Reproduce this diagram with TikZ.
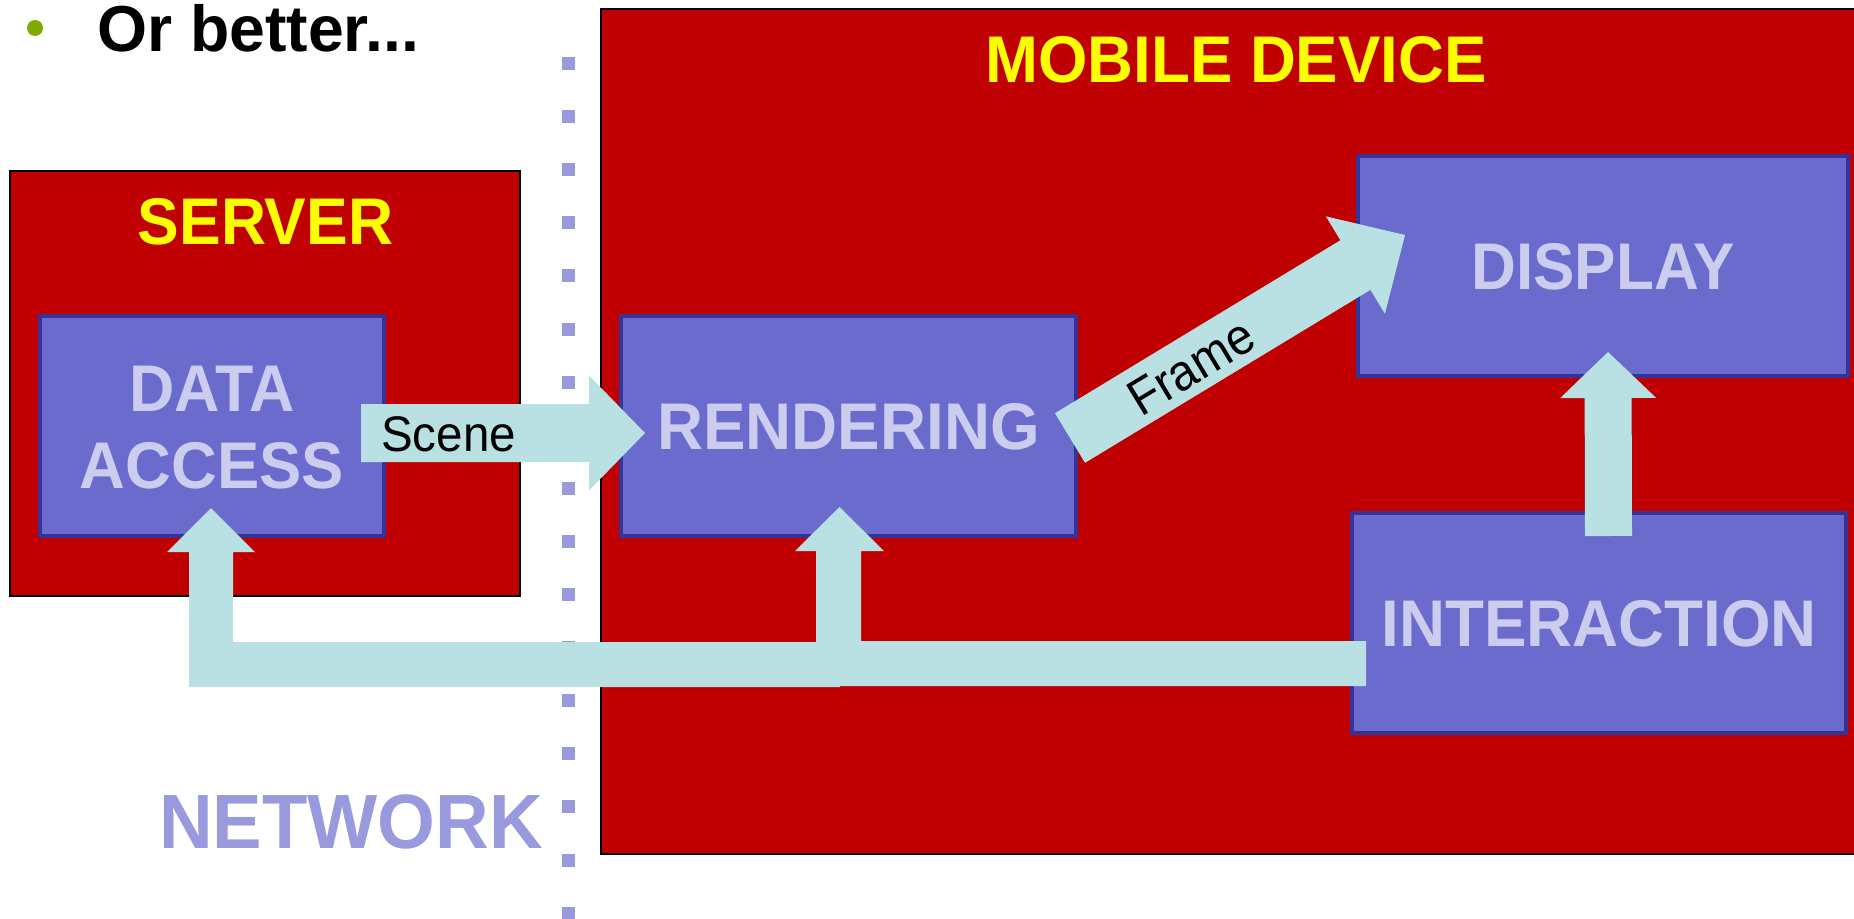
\documentclass[tikz,border=0pt]{standalone}
\usepackage{fontspec}
\setmainfont{Liberation Sans}
\usepackage{graphicx}
\usetikzlibrary{calc}

\definecolor{devred}{HTML}{C00000}
\definecolor{boxfill}{HTML}{6B6BCE}
\definecolor{boxline}{HTML}{333399}
\definecolor{boxtext}{HTML}{CCCCEE}
\definecolor{flow}{HTML}{B9E0E3}
\definecolor{netblue}{HTML}{9999DD}
\definecolor{bulletgreen}{HTML}{80AA00}
\definecolor{titleyellow}{HTML}{FFFF00}

\newcommand{\cond}[2]{\scalebox{#1}[1]{#2}}
% block arrow: #1 tail coord, #2 tip coord, #3 half shaft, #4 half head, #5 head length
\newcommand{\blockarrow}[5]{%
  \coordinate (#1-#2-h) at ($(#2)!#5!(#1)$);
  \fill[flowfill] ($(#1)!#3!90:(#2)$) -- ($(#1-#2-h)!#3!90:(#2)$)
    -- ($(#1-#2-h)!#4!90:(#2)$) -- (#2) -- ($(#1-#2-h)!#4!-90:(#2)$)
    -- ($(#1-#2-h)!#3!-90:(#2)$) -- ($(#1)!#3!-90:(#2)$) -- cycle;}

\begin{document}
\begin{tikzpicture}[x=1pt,y=-1pt,
  region/.style={draw=black, line width=2pt, fill=devred, inner sep=0pt},
  comp/.style={draw=boxline, line width=4pt, fill=boxfill, text=boxtext,
    font=\bfseries\fontsize{66}{77}\selectfont, inner sep=0pt,
    text height=47.3pt, text depth=0pt},
  regtitle/.style={text=titleyellow, font=\bfseries\fontsize{66}{77}\selectfont,
    inner sep=0pt, text height=47.3pt, text depth=0pt},
  flowfill/.style={fill=flow},
  flowlabel/.style={text=black, font=\fontsize{50}{60}\selectfont, inner sep=0pt},
  netline/.style={draw=netblue, line width=13pt, dash pattern=on 13pt off 40.1pt},
  nettext/.style={text=netblue, font=\bfseries\fontsize{77}{90}\selectfont,
    inner sep=0pt, text height=55.1pt, text depth=0pt},
]
\useasboundingbox (0,0) rectangle (1854,918);
\clip (0,0) rectangle (1854,918);
\fill[white] (0,0) rectangle (1854,918);

% regions
\node[region, minimum width=510pt, minimum height=425pt] (server) at (265,383.5) {};
\node[region, minimum width=1279pt, minimum height=845pt] (mobile) at (1240.5,431.5) {};

% network boundary
\coordinate (nettop) at (568,57);
\coordinate (netbot) at (568,930);
\draw[netline] (nettop) -- (netbot);

% titles
\node[regtitle] (servertitle) at (265.5,221) {\cond{0.945}{SERVER}};
\node[regtitle] (mobiletitle) at (1236,58.5) {\cond{0.962}{MOBILE DEVICE}};

% components
\node[comp, minimum width=344pt, minimum height=220pt, text height=124.3pt] (da) at (212,426)
  {\begin{tabular}[b]{@{}c@{}}\cond{0.95}{DATA}\\\cond{0.96}{ACCESS}\end{tabular}};
\node[comp, minimum width=455pt, minimum height=220pt] (rend) at (848.5,426) {\cond{0.965}{RENDERING}};
\node[comp, minimum width=490pt, minimum height=220pt] (disp) at (1603,266) {\cond{0.94}{DISPLAY}};
\node[comp, minimum width=494pt, minimum height=220pt] (inter) at (1599,623) {\cond{0.965}{INTERACTION}};

% arrows
\coordinate (scene-s) at (361,433);
\coordinate (scene-e) at (645,433);
\blockarrow{scene-s}{scene-e}{29pt}{57.5pt}{56pt}

\coordinate (frame-s) at (1070,438);
\coordinate (frame-e) at (1405,235);
\blockarrow{frame-s}{frame-e}{29pt}{57pt}{58pt}

\coordinate (ui-s) at (1608.5,536);
\coordinate (ui-e) at (1608,352);
\blockarrow{ui-s}{ui-e}{23.5pt}{48pt}{46pt}

% interaction -> rendering
\fill[flowfill] (1366,641) -- (861,641) -- (861,551) -- (884,551) -- (839.5,507)
  -- (795,551) -- (816,551) -- (816,686) -- (1366,686) -- cycle;
% interaction -> data access
\fill[flowfill] (840,642) -- (233,642) -- (233,552) -- (255,552) -- (211,508)
  -- (167,552) -- (189,552) -- (189,687) -- (840,687) -- cycle;

% arrow labels
\node[flowlabel, anchor=base] (scenelbl) at (448.5,451) {\cond{0.95}{Scene}};
\node[flowlabel, font=\fontsize{51}{60}\selectfont, rotate=31.2] (framelbl) at (1191,367) {\cond{0.93}{Frame}};

% network label
\node[nettext] (netlbl) at (351,820.5) {\cond{0.965}{NETWORK}};

% heading
\fill[bulletgreen] (35,28) circle[radius=8pt];
\node[anchor=base west, inner sep=0pt, font=\bfseries\fontsize{65}{78}\selectfont] (heading) at (97,51) {\cond{0.99}{Or better...}};
\end{tikzpicture}
\end{document}
